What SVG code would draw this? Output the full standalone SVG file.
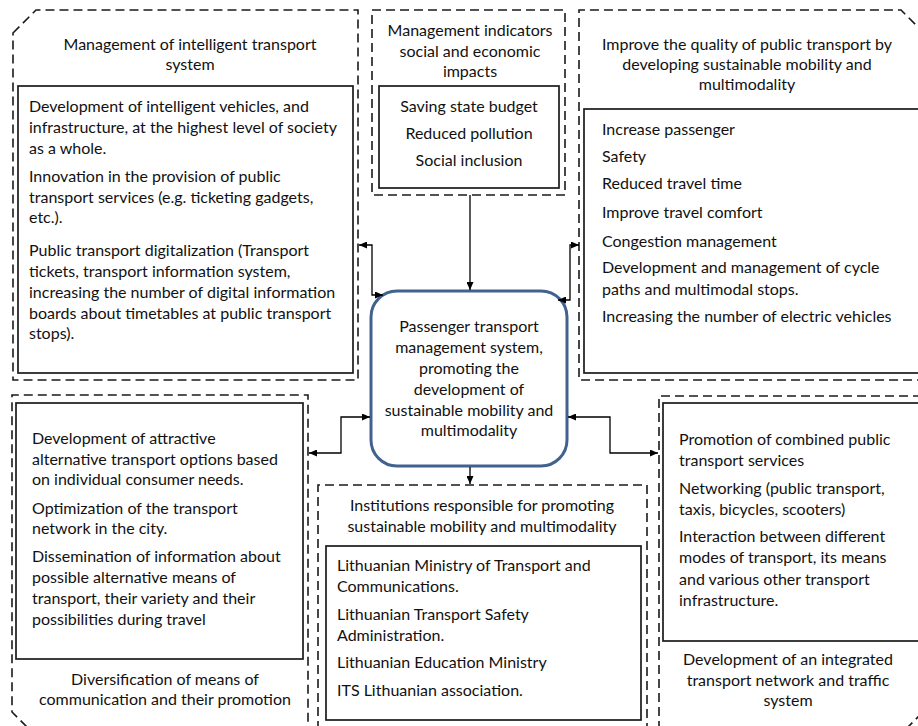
<svg xmlns="http://www.w3.org/2000/svg" width="918" height="726" viewBox="0 0 918 726">
<defs>
<style>
.dash{fill:none;stroke:#1a1a1a;stroke-width:1.6;stroke-dasharray:9 5}
.box{fill:#fff;stroke:#1a1a1a;stroke-width:1.7}
.hub{fill:#fff;stroke:#41628f;stroke-width:3}
.con{fill:none;stroke:#000;stroke-width:1.3}
text{font-family:Lato,"Open Sans","Liberation Sans",sans-serif;font-size:16px;fill:#111}
.c{text-anchor:middle}
</style>
<marker id="ah" viewBox="0 0 8 7" refX="8" refY="3.5" markerWidth="8" markerHeight="7" markerUnits="userSpaceOnUse" orient="auto-start-reverse">
<path d="M0,0 L8,3.5 L0,7 Z" fill="#000"/>
</marker>
</defs>
<rect width="918" height="726" fill="#fff"/>

<g id="node-its">
<path class="dash" d="M13,33 L36,10 L358,10 L358,380 L13,380 Z"/>
<text class="c" x="190" y="50">Management of intelligent transport</text>
<text class="c" x="190" y="70">system</text>
<rect class="box" x="18" y="86" width="335" height="287"/>
<text x="29" y="112">Development of intelligent vehicles, and</text>
<text x="29" y="133">infrastructure, at the highest level of society</text>
<text x="29" y="154">as a whole.</text>
<text x="29" y="182">Innovation in the provision of public</text>
<text x="29" y="203">transport services (e.g. ticketing gadgets,</text>
<text x="29" y="223">etc.).</text>
<text x="29" y="256">Public transport digitalization (Transport</text>
<text x="29" y="277">tickets, transport information system,</text>
<text x="29" y="298">increasing the number of digital information</text>
<text x="29" y="319">boards about timetables at public transport</text>
<text x="29" y="339">stops).</text>
</g>

<g id="node-indicators">
<rect class="dash" x="372" y="10" width="193" height="185"/>
<text class="c" x="470" y="36">Management indicators</text>
<text class="c" x="470" y="57">social and economic</text>
<text class="c" x="470" y="77">impacts</text>
<rect class="box" x="379" y="86" width="180" height="102"/>
<text class="c" x="469" y="112">Saving state budget</text>
<text class="c" x="469" y="139">Reduced pollution</text>
<text class="c" x="469" y="166">Social inclusion</text>
</g>

<g id="node-quality">
<path class="dash" d="M925,34 L901,10 L579,10 L579,380 L925,380"/>
<text class="c" x="747" y="50">Improve the quality of public transport by</text>
<text class="c" x="747" y="70">developing sustainable mobility and</text>
<text class="c" x="747" y="90">multimodality</text>
<rect class="box" x="584" y="109" width="345" height="264"/>
<text x="602" y="135">Increase passenger</text>
<text x="602" y="162">Safety</text>
<text x="602" y="189">Reduced travel time</text>
<text x="602" y="218">Improve travel comfort</text>
<text x="602" y="247">Congestion management</text>
<text x="602" y="273">Development and management of cycle</text>
<text x="602" y="295">paths and multimodal stops.</text>
<text x="602" y="322">Increasing the number of electric vehicles</text>
</g>

<g id="node-hub">
<rect class="hub" x="371" y="291" width="196" height="175" rx="26" ry="26"/>
<text class="c" x="469" y="332">Passenger transport</text>
<text class="c" x="469" y="353">management system,</text>
<text class="c" x="469" y="374">promoting the</text>
<text class="c" x="469" y="395">development of</text>
<text class="c" x="469" y="416">sustainable mobility and</text>
<text class="c" x="469" y="436">multimodality</text>
</g>

<g id="node-diversification">
<path class="dash" d="M27,727 L12,712 L12,395 L308,395 L308,730"/>
<rect class="box" x="16" y="403" width="287" height="256"/>
<text x="32" y="444">Development of attractive</text>
<text x="32" y="465">alternative transport options based</text>
<text x="32" y="485">on individual consumer needs.</text>
<text x="32" y="514">Optimization of the transport</text>
<text x="32" y="534">network in the city.</text>
<text x="32" y="562">Dissemination of information about</text>
<text x="32" y="583">possible alternative means of</text>
<text x="32" y="604">transport, their variety and their</text>
<text x="32" y="625">possibilities during travel</text>
<text class="c" x="165" y="685">Diversification of means of</text>
<text class="c" x="165" y="705">communication and their promotion</text>
</g>

<g id="node-institutions">
<path class="dash" d="M318,730 L318,485 L647,485 L647,730"/>
<text class="c" x="482" y="511">Institutions responsible for promoting</text>
<text class="c" x="482" y="532">sustainable mobility and multimodality</text>
<rect class="box" x="326" y="546" width="315" height="174"/>
<text x="337" y="571">Lithuanian Ministry of Transport and</text>
<text x="337" y="592">Communications.</text>
<text x="337" y="620">Lithuanian Transport Safety</text>
<text x="337" y="641">Administration.</text>
<text x="337" y="668">Lithuanian Education Ministry</text>
<text x="337" y="696">ITS Lithuanian association.</text>
</g>

<g id="node-network">
<path class="dash" d="M659,730 L659,396 L925,396"/>
<path class="dash" d="M906,729 L925,710"/>
<rect class="box" x="663" y="403" width="266" height="238"/>
<text x="679" y="445">Promotion of combined public</text>
<text x="679" y="466">transport services</text>
<text x="679" y="494">Networking (public transport,</text>
<text x="679" y="515">taxis, bicycles, scooters)</text>
<text x="679" y="542">Interaction between different</text>
<text x="679" y="563">modes of transport, its means</text>
<text x="679" y="585">and various other transport</text>
<text x="679" y="606">infrastructure.</text>
<text class="c" x="788" y="665">Development of an integrated</text>
<text class="c" x="788" y="686">transport network and traffic</text>
<text class="c" x="788" y="706">system</text>
</g>

<g id="connectors">
<path class="con" d="M470,195 V290" marker-end="url(#ah)"/>
<path class="con" d="M359,245 H372 V295 H383" marker-start="url(#ah)" marker-end="url(#ah)"/>
<path class="con" d="M579,245 H570 V300 H558" marker-start="url(#ah)" marker-end="url(#ah)"/>
<path class="con" d="M309,453 H341 V417 H370" marker-start="url(#ah)" marker-end="url(#ah)"/>
<path class="con" d="M568,417 H610 V453 H658" marker-start="url(#ah)" marker-end="url(#ah)"/>
<path class="con" d="M470,467 V484" marker-end="url(#ah)"/>
</g>
</svg>
